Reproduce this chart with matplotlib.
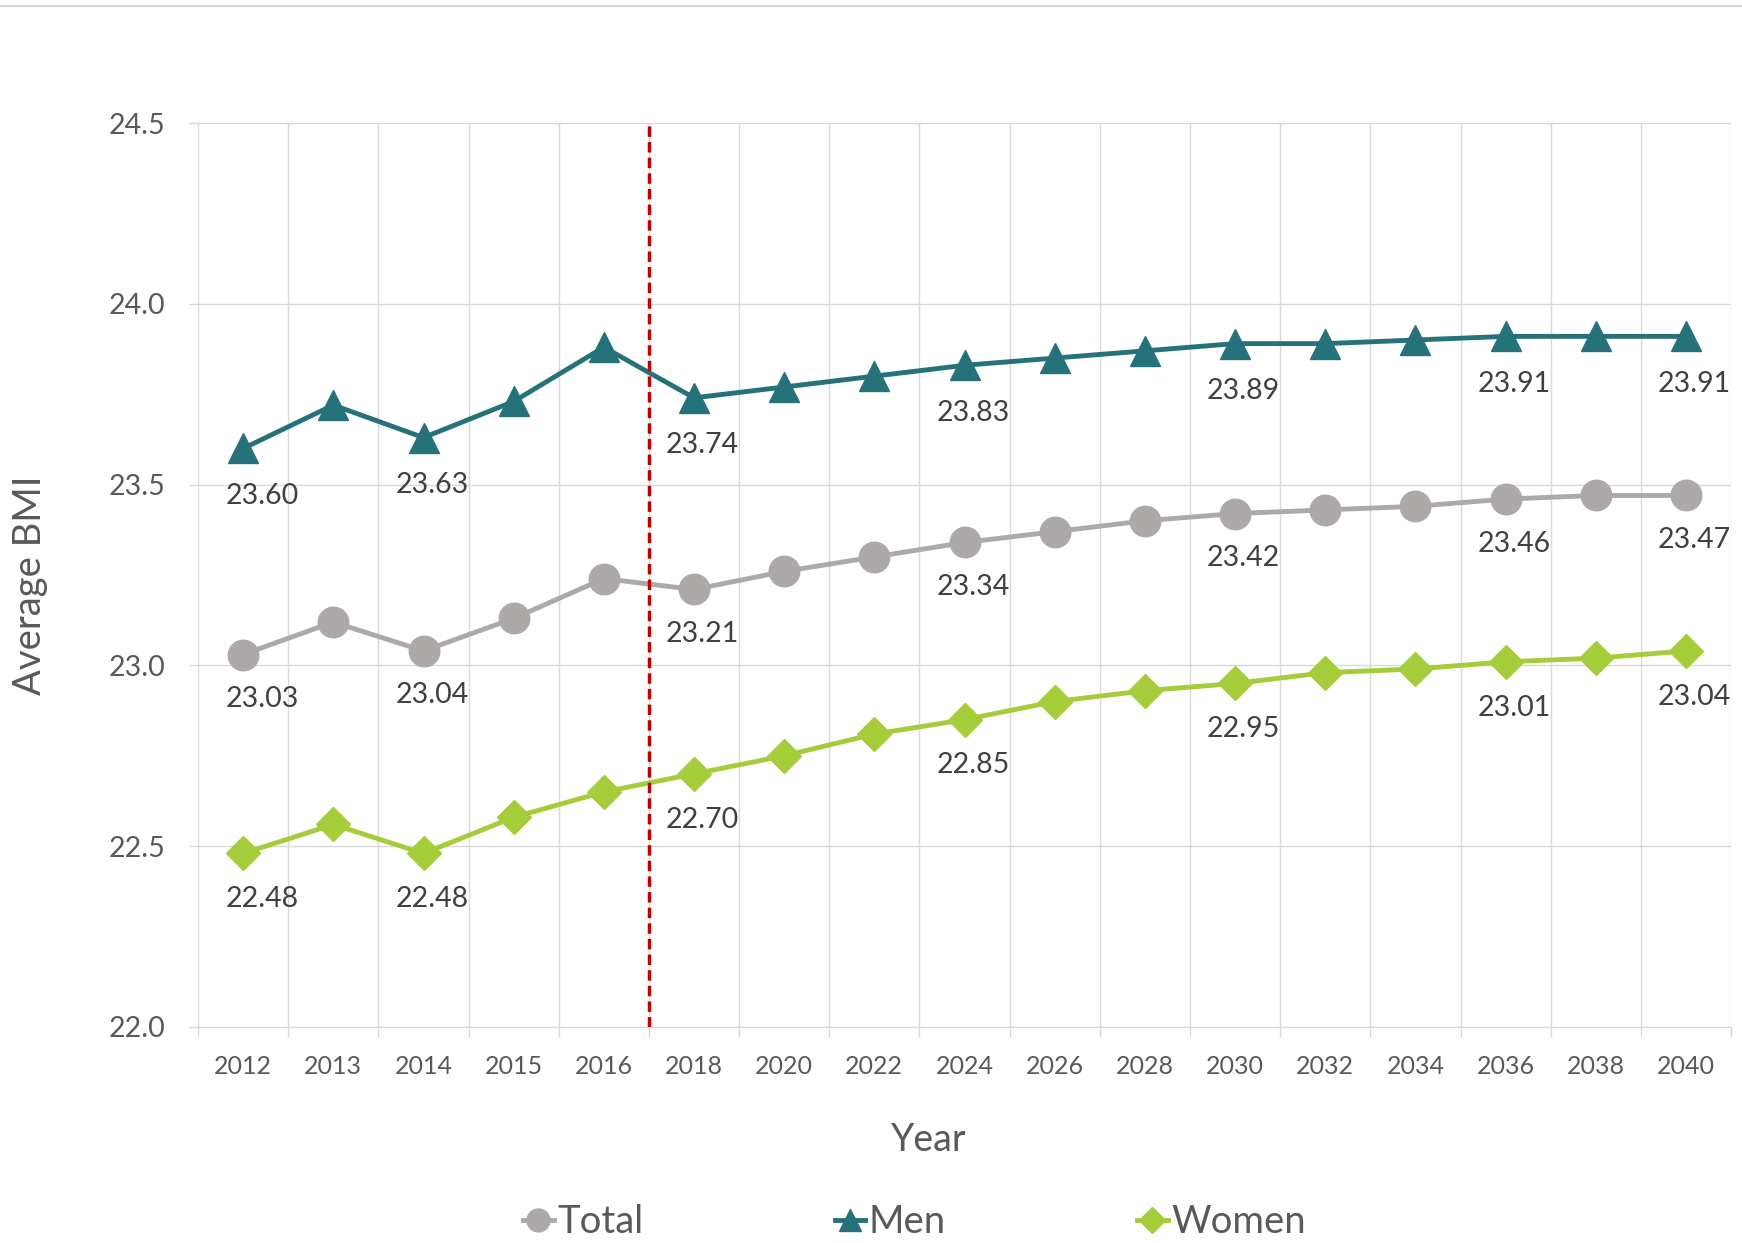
import numpy as np
import matplotlib.pyplot as plt
from matplotlib.lines import Line2D

# average BMI by year, observed up to 2016 and projected afterwards
years = ['2012', '2013', '2014', '2015', '2016', '2018', '2020', '2022', '2024',
         '2026', '2028', '2030', '2032', '2034', '2036', '2038', '2040']
total = [23.03, 23.12, 23.04, 23.13, 23.24, 23.21, 23.26, 23.30, 23.34,
         23.37, 23.40, 23.42, 23.43, 23.44, 23.46, 23.47, 23.47]
men = [23.60, 23.72, 23.63, 23.73, 23.88, 23.74, 23.77, 23.80, 23.83,
       23.85, 23.87, 23.89, 23.89, 23.90, 23.91, 23.91, 23.91]
women = [22.48, 22.56, 22.48, 22.58, 22.65, 22.70, 22.75, 22.81, 22.85,
         22.90, 22.93, 22.95, 22.98, 22.99, 23.01, 23.02, 23.04]
labelled = [0, 2, 5, 8, 11, 14, 16]
last_observed = '2016'

plt.rcParams['font.family'] = ['Lato', 'DejaVu Sans']
GRID = '#D9D9D9'

fig = plt.figure(figsize=(17.42, 12.43), dpi=100)
ax = fig.add_axes([0.1137, 0.1738, 0.88, 0.7272])
x = np.arange(len(years))

series = [('Total', total, '#ADA9A9', 'o', 22, -32),
          ('Men', men, '#26727A', '^', 21, -34),
          ('Women', women, '#A5CD3A', 'D', 17.5, -33)]
for name, vals, color, marker, ms, dy in series:
    ax.plot(x, vals, color=color, lw=3.5, marker=marker, ms=ms,
            label=name, zorder=3)
    for i in labelled:
        dx = 14 if i == 0 else 6
        ax.annotate(f'{vals[i]:.2f}', (x[i], vals[i]), xytext=(dx, dy),
                    textcoords='offset points', ha='center', va='center',
                    fontsize=20.5, color='#404040', zorder=5)

# boundary between observed and projected values
ax.axvline(years.index(last_observed) + 0.5, color='#C00000', lw=2.5,
           ls=(0, (3.0, 1.5)), zorder=4)

ax.set_xlim(-0.5, len(years) - 0.5)
ax.set_ylim(22, 24.5)
ax.set_yticks(np.arange(22, 24.51, 0.5))
ax.set_yticklabels([f'{v:.1f}' for v in np.arange(22, 24.51, 0.5)])
ax.set_xticks(x)
ax.set_xticklabels(years)
ax.set_xticks(np.arange(-0.5, len(years)), minor=True)

ax.tick_params(axis='x', which='major', length=0, pad=20,
               labelsize=18, labelcolor='#595959')
ax.tick_params(axis='x', which='minor', length=7, width=1, color=GRID)
ax.tick_params(axis='y', length=6.5, width=1, color=GRID, pad=17,
               labelsize=20.5, labelcolor='#595959')
ax.grid(axis='y', color=GRID, lw=1)
ax.grid(axis='x', which='minor', color=GRID, lw=1)
for side in ['top', 'right', 'left']:
    ax.spines[side].set_visible(False)
ax.spines['bottom'].set_color(GRID)
ax.set_axisbelow(True)

fig.text(0.533, 0.083, 'Year', ha='center', va='center',
         fontsize=27, color='#595959')
fig.text(0.017, 0.529, 'Average BMI', ha='center', va='center',
         rotation=90, fontsize=27.5, color='#595959')

fig.legend(loc='center', bbox_to_anchor=(0.525, 0.017), ncol=3,
           frameon=False, fontsize=27.5, handlelength=0.8, handletextpad=0.1,
           columnspacing=5, markerscale=0.75, labelcolor='#595959')

fig.add_artist(Line2D([0, 1], [0.995, 0.995], transform=fig.transFigure,
                      color=GRID, lw=1.5))

fig.savefig('out.png', dpi=100, facecolor='white')
